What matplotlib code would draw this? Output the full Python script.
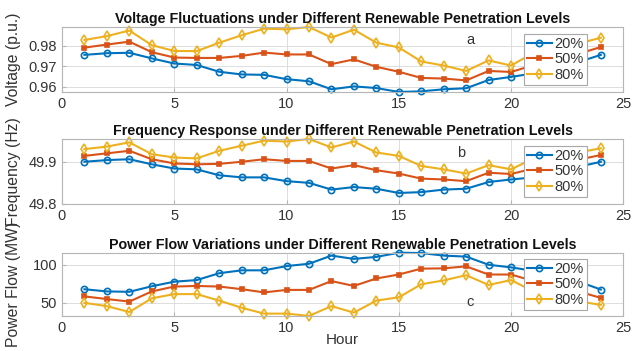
import numpy as np
import matplotlib
matplotlib.use('Agg')
import matplotlib.pyplot as plt

plt.rcParams['font.family'] = ['Liberation Sans', 'DejaVu Sans']

# Dados
hours = list(range(1, 25))
labels = ['20%', '50%', '80%']

volt_20 = [0.9755, 0.9763, 0.9765, 0.9738, 0.9713, 0.9706, 0.9673, 0.9660, 0.9658, 0.9637, 0.9627, 0.9588,
           0.9602, 0.9594, 0.9575, 0.9578, 0.9588, 0.9593, 0.9633, 0.9648, 0.9665, 0.9690, 0.9720, 0.9755]
volt_50 = [0.9790, 0.9805, 0.9819, 0.9768, 0.9742, 0.9740, 0.9740, 0.9750, 0.9766, 0.9757, 0.9757, 0.9710,
           0.9733, 0.9697, 0.9673, 0.9643, 0.9640, 0.9631, 0.9677, 0.9672, 0.9705, 0.9730, 0.9760, 0.9793]
volt_80 = [0.9827, 0.9846, 0.9873, 0.9802, 0.9774, 0.9773, 0.9814, 0.9850, 0.9882, 0.9879, 0.9890, 0.9839,
           0.9877, 0.9814, 0.9791, 0.9723, 0.9703, 0.9677, 0.9728, 0.9703, 0.9765, 0.9790, 0.9810, 0.9838]

freq_20 = [49.900, 49.904, 49.906, 49.894, 49.884, 49.882, 49.868, 49.863, 49.863, 49.854, 49.850, 49.834,
           49.840, 49.836, 49.826, 49.828, 49.834, 49.836, 49.852, 49.858, 49.863, 49.875, 49.888, 49.900]
freq_50 = [49.914, 49.920, 49.926, 49.906, 49.896, 49.894, 49.895, 49.900, 49.906, 49.902, 49.902, 49.884,
           49.892, 49.880, 49.872, 49.860, 49.858, 49.854, 49.874, 49.871, 49.884, 49.895, 49.905, 49.916]
freq_80 = [49.930, 49.936, 49.946, 49.918, 49.910, 49.908, 49.926, 49.938, 49.950, 49.948, 49.954, 49.934,
           49.948, 49.922, 49.914, 49.890, 49.882, 49.872, 49.892, 49.882, 49.908, 49.915, 49.922, 49.932]

pow_20 = [67.9, 65.0, 64.5, 71.8, 77.8, 79.9, 88.9, 92.7, 92.7, 98.3, 101.3, 112.0,
          107.7, 110.3, 115.8, 115.4, 112.0, 110.7, 100.0, 96.6, 92.0, 86.0, 78.0, 67.5]
pow_50 = [58.5, 55.0, 51.7, 65.0, 71.4, 72.2, 71.4, 68.0, 63.7, 67.0, 67.0, 78.6,
          72.2, 82.0, 87.2, 94.9, 95.3, 97.9, 87.2, 87.2, 78.6, 73.0, 65.0, 56.5]
pow_80 = [50.0, 45.7, 38.0, 56.0, 61.5, 61.5, 53.0, 43.6, 35.9, 35.9, 32.9, 45.7,
          37.2, 53.0, 57.3, 74.4, 79.5, 86.3, 73.5, 79.9, 65.0, 60.0, 52.0, 47.4]

cores = ['#0072BD', '#D95319', '#EDB120']
marcadores = ['o', 's', 'd']
tamanhos = [4.5, 3.5, 5]

paineis = [
    ('Voltage Fluctuations under Different Renewable Penetration Levels', 'Voltage (p.u.)',
     [volt_20, volt_50, volt_80], [0.96, 0.97, 0.98], 'a', (18.0, 0.9810), None),
    ('Frequency Response under Different Renewable Penetration Levels', 'Frequency (Hz)',
     [freq_20, freq_50, freq_80], [49.8, 49.9], 'b', (17.6, 49.912), 49.8),
    ('Power Flow Variations under Different Renewable Penetration Levels', 'Power Flow (MW)',
     [pow_20, pow_50, pow_80], [50, 100], 'c', (18.0, 46.0), None),
]

posicoes = [[0.0964, 0.738, 0.873, 0.185],
            [0.0964, 0.419, 0.873, 0.185],
            [0.0964, 0.100, 0.873, 0.180]]

fig = plt.figure(figsize=(6.43, 3.51), dpi=100)

for pos, (titulo, ylab, series, yticks, letra, pos_letra, ymin) in zip(posicoes, paineis):
    ax = fig.add_axes(pos)
    for serie, cor, m, ms, lab in zip(series, cores, marcadores, tamanhos, labels):
        ax.plot(hours, serie, color=cor, marker=m, markersize=ms, lw=1.5,
                markerfacecolor=cor if m == 's' else 'none', markeredgewidth=1.2,
                label=lab, clip_on=False)
    todos = np.concatenate(series)
    lo = todos.min() if ymin is None else ymin
    ax.set_ylim(lo, todos.max())
    ax.set_xlim(0, 25)
    ax.set_xticks([0, 5, 10, 15, 20, 25])
    ax.set_yticks(yticks)
    ax.grid(True, color='#d8d8d8', lw=0.6)
    ax.set_axisbelow(True)
    for s in ax.spines.values():
        s.set_color('#b5b5b5')
        s.set_linewidth(0.8)
    ax.tick_params(direction='in', length=3, colors='#b5b5b5', labelcolor='#333333', labelsize=10.5)
    ax.set_title(titulo, fontsize=10.3, fontweight='bold', pad=3, color='#111111')
    ax.text(pos_letra[0], pos_letra[1], letra, fontsize=10.5, color='#333333')
    leg = ax.legend(loc='center right', bbox_to_anchor=(0.935, 0.5), fontsize=10.5,
                    handlelength=1.7, handletextpad=0.2, labelspacing=0.1,
                    borderpad=0.2, borderaxespad=0, fancybox=False, framealpha=1)
    leg.get_frame().set_edgecolor('#a8a8a8')
    leg.get_frame().set_linewidth(0.8)
    for t in leg.get_texts():
        t.set_color('#333333')
    # rótulo do eixo y centrado no painel (sobrepõe como no original)
    fig.text(0.021, pos[1] + pos[3] / 2, ylab, rotation=90, ha='center', va='center',
             fontsize=11.3, color='#333333')
    if letra == 'c':
        ax.set_xlabel('Hour', fontsize=11, color='#333333', labelpad=-1)

fig.savefig('out.png', dpi=100)
